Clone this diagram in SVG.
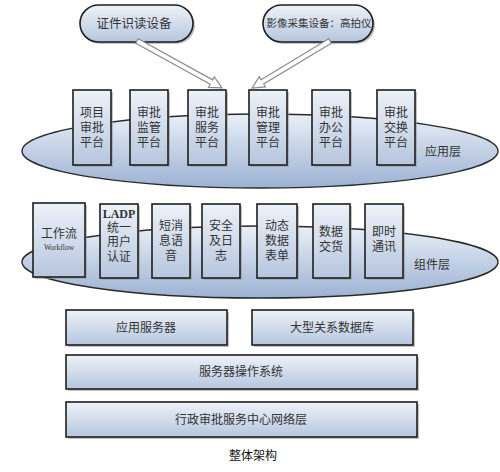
<svg xmlns="http://www.w3.org/2000/svg" width="500" height="472" viewBox="0 0 500 472">
<defs>
<linearGradient id="g" x1="0" y1="0" x2="0" y2="1">
<stop offset="0" stop-color="#eef2f9"/>
<stop offset="1" stop-color="#b6c6de"/>
</linearGradient>
<linearGradient id="ge" x1="0" y1="0" x2="0" y2="1">
<stop offset="0" stop-color="#e9eff8"/>
<stop offset="1" stop-color="#9cb2d3"/>
</linearGradient>
<style>
.box{fill:url(#g);stroke:#1e1e1e;stroke-width:1.6}
.sh{fill:#9a9a9a;opacity:0.6}
.ell{fill:url(#ge);stroke:#2a2a2a;stroke-width:1.4}
.t{font-family:"Liberation Serif","Noto Sans CJK SC",serif;font-size:12px;fill:#333;text-anchor:middle}
.arr{fill:#fff;stroke:#8a8a8a;stroke-width:1.2}
.cap{font-family:"Liberation Sans","Noto Sans CJK SC",sans-serif;font-size:12px;fill:#111;text-anchor:middle}
</style>
</defs>
<rect width="500" height="472" fill="#fff"/>

<g id="pill-reader">
<rect x="80" y="5" width="113" height="37" rx="18.5" class="sh" transform="translate(2,2)"/>
<rect x="80" y="5" width="113" height="37" rx="18.5" class="box"/>
<text x="134" y="28" class="t" style="font-size:12.5px">证件识读设备</text>
</g>
<g id="pill-camera">
<rect x="263" y="5" width="110" height="37" rx="18.5" class="sh" transform="translate(2,2)"/>
<rect x="263" y="5" width="110" height="37" rx="18.5" class="box"/>
<text x="319" y="27" class="t" style="font-size:10.5px">影像采集设备：高拍仪</text>
</g>

<g id="connectors">
<polygon class="arr" transform="translate(137,41) rotate(28.9)" points="0,-2.5 85,-2.5 85,-6 97,0 85,6 85,2.5 0,2.5"/>
<polygon class="arr" transform="translate(330,41) rotate(148.9)" points="0,-2.5 79,-2.5 79,-6 91,0 79,6 79,2.5 0,2.5"/>
</g>

<g id="layer-app">
<ellipse cx="260" cy="151" rx="238" ry="37" class="ell"/>
<text x="443" y="156" class="t">应用层</text>
</g>
<g id="app1"><rect x="75" y="92" width="38" height="75" class="sh"/><rect x="73" y="90" width="38" height="75" class="box"/>
<text x="92" y="117" class="t">项目</text><text x="92" y="132" class="t">审批</text><text x="92" y="147" class="t">平台</text></g>
<g id="app2"><rect x="132" y="92" width="38" height="75" class="sh"/><rect x="130" y="90" width="38" height="75" class="box"/>
<text x="149" y="117" class="t">审批</text><text x="149" y="132" class="t">监管</text><text x="149" y="147" class="t">平台</text></g>
<g id="app3"><rect x="190" y="92" width="38" height="75" class="sh"/><rect x="188" y="90" width="38" height="75" class="box"/>
<text x="207" y="117" class="t">审批</text><text x="207" y="132" class="t">服务</text><text x="207" y="147" class="t">平台</text></g>
<g id="app4"><rect x="251" y="92" width="38" height="75" class="sh"/><rect x="249" y="90" width="38" height="75" class="box"/>
<text x="268" y="117" class="t">审批</text><text x="268" y="132" class="t">管理</text><text x="268" y="147" class="t">平台</text></g>
<g id="app5"><rect x="314" y="92" width="38" height="75" class="sh"/><rect x="312" y="90" width="38" height="75" class="box"/>
<text x="331" y="117" class="t">审批</text><text x="331" y="132" class="t">办公</text><text x="331" y="147" class="t">平台</text></g>
<g id="app6"><rect x="379" y="92" width="38" height="75" class="sh"/><rect x="377" y="90" width="38" height="75" class="box"/>
<text x="396" y="117" class="t">审批</text><text x="396" y="132" class="t">交换</text><text x="396" y="147" class="t">平台</text></g>

<g id="layer-comp">
<ellipse cx="260" cy="262" rx="238" ry="36" class="ell"/>
<text x="432" y="269" class="t">组件层</text>
</g>
<g id="c1"><rect x="35" y="205" width="52" height="74" class="sh"/><rect x="33" y="203" width="52" height="74" class="box"/>
<text x="59" y="238" class="t">工作流</text><text x="59" y="250" class="t" style="font-size:7.5px">Workflow</text></g>
<g id="c2"><rect x="102" y="206" width="38" height="74" class="sh"/><rect x="100" y="204" width="38" height="74" class="box"/>
<text x="119" y="218" class="t" style="font-weight:bold">LADP</text><text x="119" y="232" class="t">统一</text><text x="119" y="246" class="t">用户</text><text x="119" y="261" class="t">认证</text></g>
<g id="c3"><rect x="154" y="206" width="38" height="74" class="sh"/><rect x="152" y="204" width="38" height="74" class="box"/>
<text x="171" y="230" class="t">短消</text><text x="171" y="245" class="t">息语</text><text x="171" y="260" class="t">音</text></g>
<g id="c4"><rect x="204" y="206" width="38" height="74" class="sh"/><rect x="202" y="204" width="38" height="74" class="box"/>
<text x="221" y="230" class="t">安全</text><text x="221" y="245" class="t">及日</text><text x="221" y="260" class="t">志</text></g>
<g id="c5"><rect x="259" y="206" width="40" height="74" class="sh"/><rect x="257" y="204" width="40" height="74" class="box"/>
<text x="277" y="230" class="t">动态</text><text x="277" y="245" class="t">数据</text><text x="277" y="260" class="t">表单</text></g>
<g id="c6"><rect x="315" y="206" width="37" height="74" class="sh"/><rect x="313" y="204" width="37" height="74" class="box"/>
<text x="331" y="236" class="t">数据</text><text x="331" y="251" class="t">交货</text></g>
<g id="c7"><rect x="367" y="206" width="38" height="74" class="sh"/><rect x="365" y="204" width="38" height="74" class="box"/>
<text x="384" y="236" class="t">即时</text><text x="384" y="251" class="t">通讯</text></g>

<g id="appserver"><rect x="68" y="312" width="161" height="35" class="sh"/><rect x="66" y="310" width="161" height="35" class="box"/>
<text x="146" y="332" class="t">应用服务器</text></g>
<g id="database"><rect x="254" y="312" width="161" height="35" class="sh"/><rect x="252" y="310" width="161" height="35" class="box"/>
<text x="332" y="332" class="t">大型关系数据库</text></g>
<g id="os"><rect x="68" y="357" width="351" height="34" class="sh"/><rect x="66" y="355" width="351" height="34" class="box"/>
<text x="241" y="376" class="t">服务器操作系统</text></g>
<g id="network"><rect x="68" y="404" width="351" height="35" class="sh"/><rect x="66" y="402" width="351" height="35" class="box"/>
<text x="241" y="424" class="t">行政审批服务中心网络层</text></g>

<text x="253" y="460" class="cap">整体架构</text>
</svg>
